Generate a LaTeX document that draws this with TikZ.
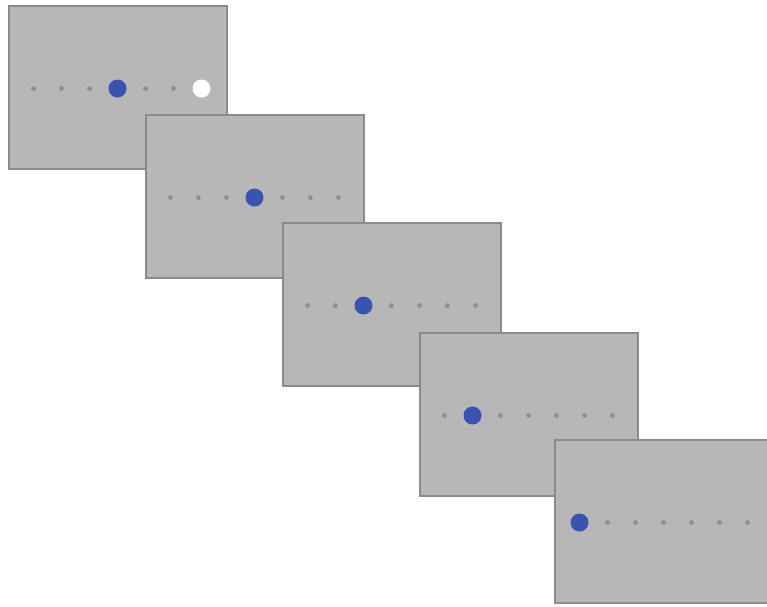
\documentclass[tikz,border=0pt]{standalone}
\usepackage{tikz}
\definecolor{panelgray}{HTML}{B7B7B7}
\definecolor{edgegray}{HTML}{8A8A8A}
\definecolor{markgray}{HTML}{8E8E8E}
\definecolor{targetblue}{HTML}{3A52B0}
\begin{document}
\begin{tikzpicture}[x=0.02cm,y=-0.02cm,
  panel/.style={draw=edgegray,fill=panelgray,line width=0.6pt},
  placedot/.style={fill=markgray},
  target/.style={fill=targetblue},
  probe/.style={fill=white}]
\useasboundingbox (0,0) rectangle (767,606);
\clip (0,0) rectangle (767,606);
% five frames, blue target steps one place left each time
\foreach \n/\x/\y/\b in {1/9/6/3,2/146/115/3,3/283/223/2,4/420/333/1,5/555/440/0} {
  \coordinate (frame\n) at (\x,\y);
  \draw[panel] (frame\n) rectangle ++(218,163);
  \foreach \k in {0,...,6} {\fill[placedot] ([shift={({24.5+28*\k},82.5)}]frame\n) circle (2.4);}
  \fill[target] ([shift={({24.5+28*\b},82.5)}]frame\n) circle (9);
}
\fill[probe] ([shift={(192.5,82.5)}]frame1) circle (9);
\end{tikzpicture}
\end{document}
